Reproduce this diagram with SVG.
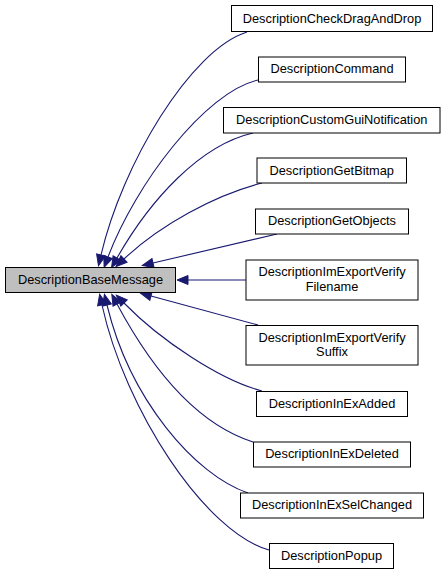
<svg xmlns="http://www.w3.org/2000/svg" width="445" height="575" viewBox="0 0 445 575">
<style>
.node rect{fill:#ffffff;stroke:#000000;stroke-width:1}
.node.main rect{fill:#bfbfbf}
.node text{font-family:"Liberation Sans",Arial,sans-serif;font-size:12.8px;fill:#000000;text-anchor:middle}
.edges path{fill:none;stroke:#191970;stroke-width:1.1;marker-end:url(#arr)}
</style>
<defs>
<marker id="arr" viewBox="0 0 11 9" refX="0" refY="4.5" markerWidth="11" markerHeight="9" markerUnits="userSpaceOnUse" orient="auto" overflow="visible">
<path d="M0,0 L11,4.5 L0,9 z" fill="#191970" stroke="#191970" stroke-width="1"/>
</marker>
</defs>
<rect width="445" height="575" fill="#ffffff"/>
<g class="edges" id="edges">
<path d="M247,32 C190,50 122,165 101,255"/>
<path d="M258,80 C205,92 135,185 108,257"/>
<path d="M253,133 C200,145 150,200 117,258"/>
<path d="M262,183 C215,195 160,225 124,259"/>
<path d="M277,234 L153,263"/>
<path d="M246,280 L188,280"/>
<path d="M258,325 L151,296"/>
<path d="M262,391 C220,380 160,340 124,303"/>
<path d="M253,442 C200,425 155,375 117,304"/>
<path d="M248,493 C195,475 130,400 107,305"/>
<path d="M269,550 C205,532 125,410 102,305"/>
</g>
<g class="node main" id="n_base"><rect x="5.5" y="267.5" width="170" height="25"/><text x="90.5" y="284">DescriptionBaseMessage</text></g>
<g class="node" id="n1"><rect x="231.5" y="5.5" width="201" height="26"/><text x="332" y="22.5">DescriptionCheckDragAndDrop</text></g>
<g class="node" id="n2"><rect x="258.5" y="57" width="147" height="25"/><text x="332" y="73">DescriptionCommand</text></g>
<g class="node" id="n3"><rect x="223.5" y="107.5" width="216.5" height="25.5"/><text x="331.75" y="123.5">DescriptionCustomGuiNotification</text></g>
<g class="node" id="n4"><rect x="257" y="158" width="149.5" height="25"/><text x="331.75" y="174.5">DescriptionGetBitmap</text></g>
<g class="node" id="n5"><rect x="255.5" y="209" width="153" height="25"/><text x="332" y="225">DescriptionGetObjects</text></g>
<g class="node" id="n6"><rect x="246" y="260" width="172" height="40"/><text x="332" y="276">DescriptionImExportVerify</text><text x="332" y="291">Filename</text></g>
<g class="node" id="n7"><rect x="246" y="325.5" width="172" height="39.5"/><text x="332" y="341.5">DescriptionImExportVerify</text><text x="332" y="356">Suffix</text></g>
<g class="node" id="n8"><rect x="256.5" y="391.5" width="151" height="25"/><text x="332" y="407.5">DescriptionInExAdded</text></g>
<g class="node" id="n9"><rect x="253.5" y="442" width="157" height="25"/><text x="332" y="458">DescriptionInExDeleted</text></g>
<g class="node" id="n10"><rect x="240.5" y="493" width="183" height="25"/><text x="332" y="509">DescriptionInExSelChanged</text></g>
<g class="node" id="n11"><rect x="269.5" y="543.5" width="124" height="25"/><text x="331.5" y="559.5">DescriptionPopup</text></g>
</svg>
